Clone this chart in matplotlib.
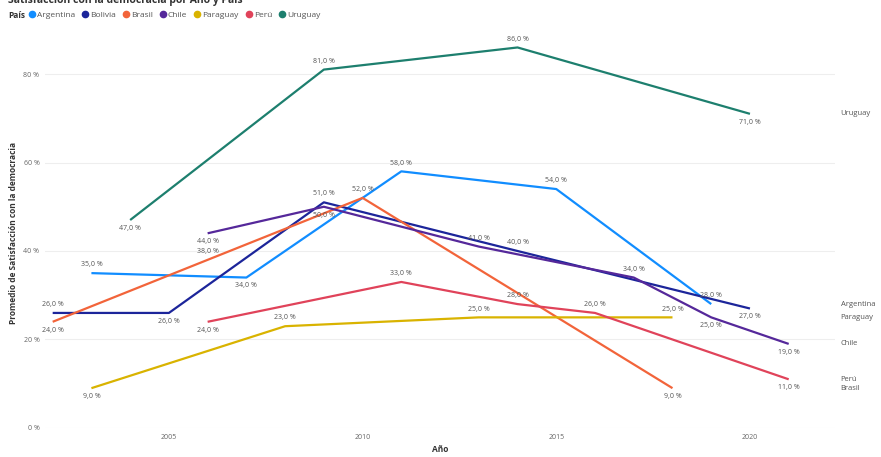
import matplotlib
matplotlib.use("Agg")
import matplotlib.pyplot as plt
from matplotlib.lines import Line2D

plt.rcParams['font.family'] = ['Open Sans', 'DejaVu Sans']

# datos
paises = ["Argentina", "Bolivia", "Brasil", "Chile", "Paraguay", "Perú", "Uruguay"]

anios_argentina = [2003, 2007, 2011, 2015, 2019]
vals_argentina = [35, 34, 58, 54, 28]

anios_bolivia = [2002, 2005, 2009, 2014, 2020]
vals_bolivia = [26, 26, 51, 40, 27]

anios_brasil = [2002, 2006, 2010, 2018]
vals_brasil = [24, 38, 52, 9]

anios_chile = [2006, 2009, 2013, 2017, 2019, 2021]
vals_chile = [44, 50, 41, 34, 25, 19]

anios_paraguay = [2003, 2008, 2013, 2018]
vals_paraguay = [9, 23, 25, 25]

anios_peru = [2006, 2011, 2014, 2016, 2021]
vals_peru = [24, 33, 28, 26, 11]

anios_uruguay = [2004, 2009, 2014, 2020]
vals_uruguay = [47, 81, 86, 71]

colores = {"Argentina": "#118DFF", "Bolivia": "#1C259A", "Brasil": "#F2643A",
           "Chile": "#55289A", "Paraguay": "#D9B300", "Perú": "#E0435A",
           "Uruguay": "#1D7F6E"}

# posicion de las etiquetas: 1 arriba, -1 abajo
pos_etiquetas = {"Argentina": [1, -1, 1, 1, 1], "Bolivia": [1, -1, 1, 1, -1],
                 "Brasil": [-1, 1, 1, -1], "Chile": [-1, -1, 1, 1, -1, -1],
                 "Paraguay": [-1, 1, 1, 1], "Perú": [-1, 1, 1, 1, -1],
                 "Uruguay": [-1, 1, 1, -1]}

series = {"Argentina": (anios_argentina, vals_argentina),
          "Bolivia": (anios_bolivia, vals_bolivia),
          "Brasil": (anios_brasil, vals_brasil),
          "Chile": (anios_chile, vals_chile),
          "Paraguay": (anios_paraguay, vals_paraguay),
          "Perú": (anios_peru, vals_peru),
          "Uruguay": (anios_uruguay, vals_uruguay)}

fig = plt.figure(figsize=(8.81, 4.57), dpi=100)
ax = fig.add_axes([0.051, 0.0635, 0.897, 0.852])

for p in paises:
    x, y = series[p]
    ax.plot(x, y, color=colores[p], lw=1.6, solid_capstyle='butt')
    for xi, yi, s in zip(x, y, pos_etiquetas[p]):
        ax.annotate(f"{yi:.1f} %".replace('.', ','), (xi, yi),
                    xytext=(0, 6 * s), textcoords='offset points',
                    ha='center', va='center', fontsize=5, color='#555555')

# etiquetas de serie a la derecha
for p in ["Uruguay", "Argentina", "Paraguay", "Chile", "Perú", "Brasil"]:
    x, y = series[p]
    ax.annotate(p, (1.0, y[-1]), xycoords=('axes fraction', 'data'),
                xytext=(4, 0), textcoords='offset points',
                ha='left', va='center', fontsize=5.5, color='#555555',
                annotation_clip=False)

ax.set_xlim(2001.8, 2022.2)
ax.set_ylim(0, 88)
ax.set_xticks([2005, 2010, 2015, 2020])
ax.set_yticks([0, 20, 40, 60, 80])
ax.set_yticklabels([f"{t} %" for t in [0, 20, 40, 60, 80]])
ax.tick_params(length=0, labelsize=5, labelcolor='#666666', pad=4)
ax.grid(axis='y', color='#eeeeee', lw=0.8)
ax.set_axisbelow(True)
for s in ax.spines.values():
    s.set_visible(False)

ax.set_xlabel("Año", fontsize=6, fontweight='bold', color='#333333', labelpad=3)
ax.set_ylabel("Promedio de Satisfacción con la democracia", fontsize=6,
              fontweight='bold', color='#333333', labelpad=4)

# titulo (cortado arriba como en la captura)
fig.text(8 / 881, 1 - 1 / 457, "Satisfacción con la democracia por Año y País",
         fontsize=7.5, fontweight='bold', color='#333333', ha='left', va='center')

# leyenda
fig.text(8 / 881, 1 - 15 / 457, "País", fontsize=6, fontweight='bold',
         color='#333333', ha='left', va='center')
handles = [Line2D([], [], ls='none', marker='o', ms=4.5, color=colores[p]) for p in paises]
fig.legend(handles, paises, loc='center left', bbox_to_anchor=(28 / 881, 1 - 15 / 457),
           ncol=7, frameon=False, fontsize=6, handletextpad=0.1, columnspacing=0.7,
           handlelength=1.0, labelcolor='#555555', borderpad=0, borderaxespad=0)

fig.savefig("out.png", dpi=100)
